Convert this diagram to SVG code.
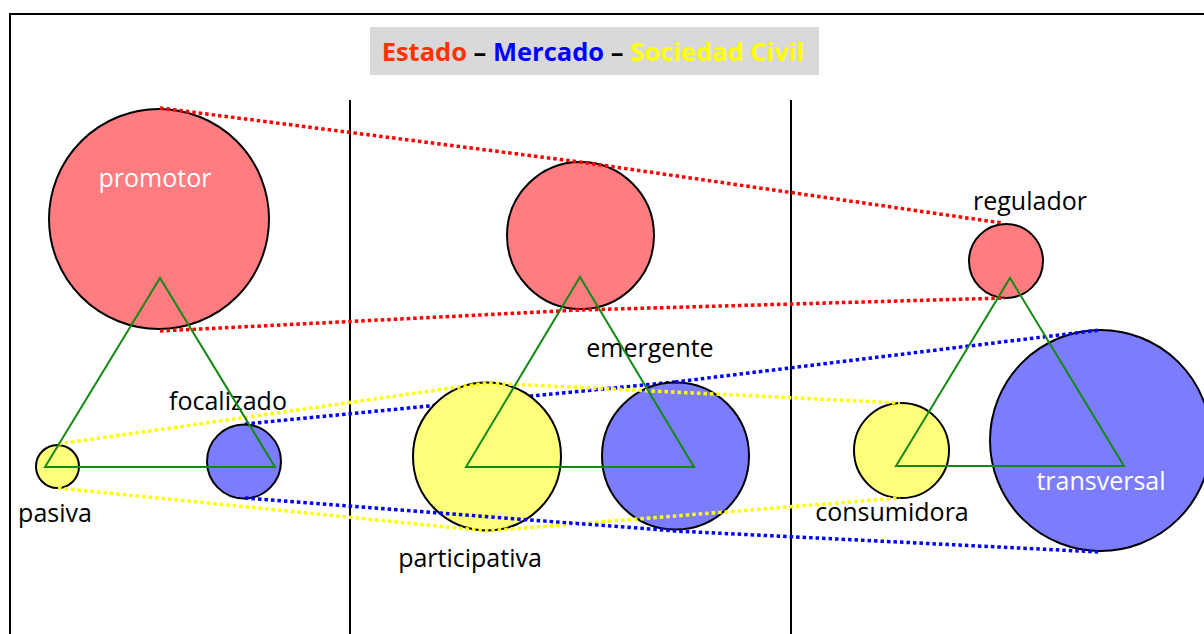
<svg xmlns="http://www.w3.org/2000/svg" width="1204" height="634" viewBox="0 0 1204 634">
<style>
.lbl{font-family:"Open Sans","Noto Sans","Liberation Sans",sans-serif;font-size:25px;fill:#000}
.wlbl{font-family:"Open Sans","Noto Sans","Liberation Sans",sans-serif;font-size:25px;fill:#fff}
.red{fill:#ff7c80;stroke:#000;stroke-width:2}
.blue{fill:#7c7cff;stroke:#000;stroke-width:2}
.yel{fill:#ffff7c;stroke:#000;stroke-width:2}
.tri{fill:none;stroke:#138a13;stroke-width:2;stroke-linejoin:miter}
.dot{fill:none;stroke-width:3.5;stroke-dasharray:3.5 3}
.dr{stroke:#ff0000}.db{stroke:#0000ff}.dy{stroke:#ffff00}
.sep{stroke:#000;stroke-width:2}
</style>
<rect x="0" y="0" width="1204" height="634" fill="#fff"/>
<rect x="10" y="14" width="1210" height="640" fill="none" stroke="#000" stroke-width="2"/>
<g id="separators">
<line class="sep" x1="350" y1="100" x2="350" y2="634"/>
<line class="sep" x1="791" y1="100" x2="791" y2="634"/>
</g>
<g id="title">
<rect x="370" y="27" width="449" height="48" fill="#d9d9d9"/>
<text x="593" y="61" text-anchor="middle" style="font-family:'Open Sans','Noto Sans','Liberation Sans',sans-serif;font-size:25.5px;font-weight:bold"><tspan fill="#ff3300">Estado</tspan><tspan fill="#000"> – </tspan><tspan fill="#0000ff">Mercado</tspan><tspan fill="#000"> – </tspan><tspan fill="#ffff00">Sociedad Civil</tspan></text>
</g>
<g id="connectors-back">
<polyline class="dot db" points="245,424 675,382"/>
</g>
<g id="promotor"><circle class="red" cx="159" cy="219" r="110"/><text class="wlbl" x="155" y="187" text-anchor="middle">promotor</text></g>
<g id="emergente-estado"><circle class="red" cx="580.5" cy="235.5" r="73.5"/></g>
<g id="regulador"><circle class="red" cx="1006" cy="261" r="37"/><text class="lbl" x="1030" y="210" text-anchor="middle">regulador</text></g>
<g id="pasiva"><circle class="yel" cx="57.5" cy="466.5" r="21.5"/><text class="lbl" x="55" y="522" text-anchor="middle">pasiva</text></g>
<g id="focalizado"><circle class="blue" cx="244" cy="461.5" r="37"/><text class="lbl" x="228" y="410" text-anchor="middle">focalizado</text></g>
<g id="participativa"><circle class="yel" cx="487" cy="456.5" r="74"/><text class="lbl" x="470" y="567" text-anchor="middle">participativa</text></g>
<g id="emergente"><circle class="blue" cx="675.5" cy="456" r="73.5"/><text class="lbl" x="650" y="357" text-anchor="middle">emergente</text></g>
<g id="consumidora"><circle class="yel" cx="901.5" cy="450.5" r="47.5"/><text class="lbl" x="892" y="521" text-anchor="middle">consumidora</text></g>
<g id="transversal"><circle class="blue" cx="1100.5" cy="440.5" r="110.5"/><text class="wlbl" x="1101" y="490" text-anchor="middle">transversal</text></g>
<g id="connectors">
<polyline class="dot dr" points="160,108 580,162 1002,223"/>
<polyline class="dot dr" points="160,331 580,310 1005,298"/>
<polyline class="dot dy" points="58,444 487,383 900,403"/>
<polyline class="dot dy" points="58,488 487,531 900,498"/>
<polyline class="dot db" points="675,382 1100,330"/>
<polyline class="dot db" points="245,498 675,531 1100,552"/>
</g>
<g id="triangles">
<polygon class="tri" points="45,467 160,278 275,467"/>
<polygon class="tri" points="466,467 580,277 694,467"/>
<polygon class="tri" points="896,466 1010,278 1124,466"/>
</g>
</svg>
